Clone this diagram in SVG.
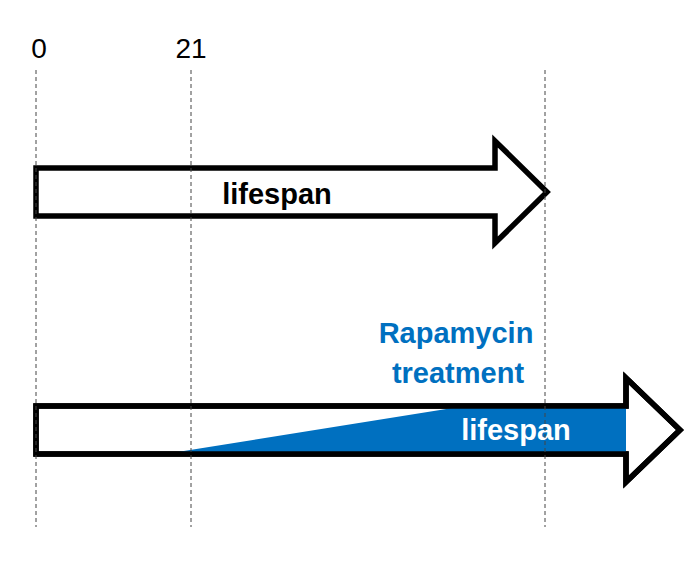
<svg xmlns="http://www.w3.org/2000/svg" width="700" height="561" viewBox="0 0 700 561">
<style>
.arrow{fill:#fff;stroke:#000;stroke-width:5.5;stroke-linejoin:miter;stroke-miterlimit:10}
.guide{stroke:#444;stroke-width:1;stroke-dasharray:4 3;fill:none}
.tick{font-family:"Liberation Sans",Arial,sans-serif;font-size:28px;fill:#000;text-anchor:middle}
.lbl{font-family:"Liberation Sans",Arial,sans-serif;font-size:29px;font-weight:bold;text-anchor:middle}
</style>
<rect width="700" height="561" fill="#fff"/>
<g id="axis-labels">
<text class="tick" x="39" y="58">0</text>
<text class="tick" x="191" y="58">21</text>
</g>
<g id="arrow-control">
<path class="arrow" d="M36,168 H495 V141 L547,192 L495,243 V216 H36 Z"/>
<text class="lbl" x="277" y="204" fill="#000">lifespan</text>
</g>
<g id="arrow-rapamycin">
<path class="arrow" d="M36,406 H626 V378 L680,430 L626,482 V454 H36 Z"/>
<polygon points="165,454 465,406 626,406 626,454" fill="#0070C0"/>
<path d="M36,406 H626 V378 L680,430 L626,482 V454 H36 Z" fill="none" stroke="#000" stroke-width="5.5"/>
<text class="lbl" x="516" y="440" fill="#fff">lifespan</text>
</g>
<g id="rapamycin-label">
<text class="lbl" x="456" y="343" fill="#0070C0">Rapamycin</text>
<text class="lbl" x="458" y="383" fill="#0070C0">treatment</text>
</g>
<g id="connectors">
<line class="guide" x1="36" y1="70" x2="36" y2="527"/>
<line class="guide" x1="191" y1="70" x2="191" y2="527"/>
<line class="guide" x1="545" y1="70" x2="545" y2="527"/>
</g>
</svg>
